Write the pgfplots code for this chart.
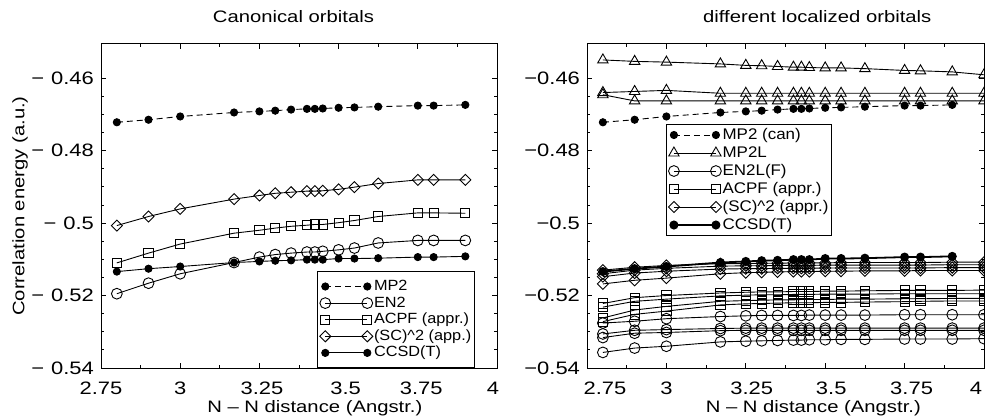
\documentclass[border=0pt]{standalone}
\usepackage{fontspec}
\setmainfont{Liberation Sans}[FakeStretch=1.22]
\newfontfamily\legfont{Liberation Sans}[FakeStretch=1.1]
\usepackage{pgfplots}
\usepackage{pgfplotstable}
\pgfplotsset{compat=1.18}

\pgfplotstableread{
x MP2 EN2 ACPF SC CC
2.8   -0.4722 -0.5195 -0.5110 -0.5007 -0.5134
2.9   -0.4715 -0.5166 -0.5083 -0.4982 -0.5126
3.0   -0.4706 -0.5140 -0.5058 -0.4961 -0.5120
3.17  -0.4695 -0.5109 -0.5028 -0.4934 -0.5109
3.25  -0.4692 -0.5094 -0.5020 -0.4924 -0.5106
3.3   -0.4690 -0.5087 -0.5014 -0.4918 -0.5104
3.35  -0.4687 -0.5083 -0.5009 -0.4915 -0.5103
3.4   -0.4685 -0.5080 -0.5006 -0.4912 -0.5101
3.425 -0.4685 -0.5080 -0.5004 -0.4912 -0.5101
3.45  -0.4684 -0.5078 -0.5004 -0.4911 -0.5101
3.5   -0.4682 -0.5074 -0.4999 -0.4907 -0.5098
3.55  -0.4681 -0.5069 -0.4993 -0.4901 -0.5098
3.625 -0.4679 -0.5055 -0.4982 -0.4891 -0.5097
3.75  -0.4676 -0.5048 -0.4972 -0.4881 -0.5094
3.8   -0.4676 -0.5048 -0.4972 -0.4881 -0.5094
3.9   -0.4674 -0.5048 -0.4973 -0.4881 -0.5092
}\canon

\pgfplotstableread{
x T1 T2 T3 D1 D2 D3 D4 S1 S2 S3 S4 C1 C2 C3 C4
2.8   -0.4550 -0.4640 -0.4646 -0.5130 -0.5140 -0.5148 -0.5168 -0.5222 -0.5232 -0.5262 -0.5272 -0.5276 -0.5306 -0.5316 -0.5357
2.9   -0.4554 -0.4637 -0.4663 -0.5122 -0.5130 -0.5138 -0.5158 -0.5206 -0.5216 -0.5240 -0.5252 -0.5271 -0.5296 -0.5304 -0.5345
3.0   -0.4556 -0.4634 -0.4663 -0.5117 -0.5125 -0.5133 -0.5152 -0.5200 -0.5210 -0.5230 -0.5243 -0.5264 -0.5294 -0.5302 -0.5340
3.17  -0.4561 -0.4642 -0.4663 -0.5112 -0.5119 -0.5127 -0.5140 -0.5193 -0.5201 -0.5216 -0.5226 -0.5258 -0.5291 -0.5297 -0.5328
3.25  -0.4565 -0.4642 -0.4663 -0.5112 -0.5118 -0.5126 -0.5137 -0.5191 -0.5199 -0.5214 -0.5223 -0.5256 -0.5290 -0.5296 -0.5326
3.3   -0.4566 -0.4642 -0.4663 -0.5111 -0.5118 -0.5126 -0.5136 -0.5190 -0.5198 -0.5213 -0.5222 -0.5255 -0.5290 -0.5296 -0.5325
3.35  -0.4568 -0.4642 -0.4663 -0.5111 -0.5117 -0.5125 -0.5135 -0.5190 -0.5198 -0.5212 -0.5221 -0.5255 -0.5290 -0.5296 -0.5324
3.4   -0.4570 -0.4642 -0.4663 -0.5110 -0.5117 -0.5125 -0.5134 -0.5189 -0.5197 -0.5212 -0.5220 -0.5255 -0.5290 -0.5296 -0.5323
3.425 -0.4570 -0.4642 -0.4663 -0.5110 -0.5117 -0.5125 -0.5134 -0.5189 -0.5197 -0.5211 -0.5220 -0.5255 -0.5290 -0.5296 -0.5323
3.45  -0.4571 -0.4642 -0.4663 -0.5110 -0.5117 -0.5125 -0.5134 -0.5189 -0.5197 -0.5211 -0.5220 -0.5254 -0.5290 -0.5296 -0.5322
3.5   -0.4572 -0.4642 -0.4663 -0.5110 -0.5116 -0.5124 -0.5133 -0.5188 -0.5196 -0.5211 -0.5219 -0.5254 -0.5290 -0.5296 -0.5322
3.55  -0.4572 -0.4642 -0.4663 -0.5109 -0.5116 -0.5124 -0.5133 -0.5188 -0.5196 -0.5210 -0.5219 -0.5254 -0.5290 -0.5296 -0.5321
3.625 -0.4574 -0.4642 -0.4663 -0.5109 -0.5116 -0.5124 -0.5132 -0.5187 -0.5196 -0.5210 -0.5218 -0.5254 -0.5290 -0.5296 -0.5321
3.75  -0.4579 -0.4642 -0.4663 -0.5109 -0.5116 -0.5124 -0.5132 -0.5186 -0.5195 -0.5209 -0.5217 -0.5253 -0.5290 -0.5296 -0.5320
3.8   -0.4580 -0.4642 -0.4663 -0.5109 -0.5116 -0.5124 -0.5131 -0.5186 -0.5195 -0.5209 -0.5216 -0.5253 -0.5290 -0.5296 -0.5320
3.9   -0.4583 -0.4642 -0.4663 -0.5108 -0.5115 -0.5123 -0.5131 -0.5186 -0.5195 -0.5208 -0.5215 -0.5253 -0.5290 -0.5296 -0.5320
4.0   -0.4591 -0.4642 -0.4663 -0.5108 -0.5115 -0.5123 -0.5131 -0.5185 -0.5195 -0.5208 -0.5215 -0.5253 -0.5290 -0.5296 -0.5319
}\local

\pgfplotsset{
  panel/.style={
    scale only axis, width=198pt, height=162pt,
    xmin=2.75, xmax=4, ymin=-0.54, ymax=-0.4506,
    xtick={2.75,3,3.25,3.5,3.75,4},
    ytick={-0.54,-0.52,-0.5,-0.48,-0.46},
    minor x tick num=1, minor y tick num=3,
    tick align=inside,
    major tick length=2.4pt, minor tick length=1.3pt,
    axis line style={line width=0.5pt},
    every tick/.style={black, line width=0.4pt},
    tick label style={font=\fontsize{9}{10}\selectfont},
    xticklabel style={anchor=base, yshift=-13pt},
    label style={font=\fontsize{8.3}{10}\selectfont},
    every axis title/.style={at={(0.5,1)}, anchor=base, yshift=10.5pt, font=\fontsize{8.3}{10}\selectfont},
    xlabel style={anchor=base, yshift=-22.5pt},
    clip marker paths=true,
    every axis plot/.append style={black, line width=0.45pt},
    legend cell align=left,
    legend image code/.code={\draw[mark repeat=1,mark phase=1,#1] plot coordinates {(0pt,0pt) (21pt,0pt)};},
  },
  sMP2/.style={dash pattern=on 3pt off 2pt, mark=*, mark size=1.8pt, mark options={solid, fill=black}},
  sCC/.style={solid, mark=*, mark size=1.8pt, mark options={solid, fill=black}},
  sEN/.style={solid, mark=o, mark size=2.7pt, mark options={solid}},
  sAC/.style={solid, mark=square, mark size=2.3pt, mark options={solid}},
  sSC/.style={solid, mark=square, mark size=1.95pt, mark options={solid, rotate=45}},
  sTR/.style={solid, mark=triangle, mark size=3pt, mark options={solid}},
}

\begin{document}
\begin{tikzpicture}
\begin{axis}[panel,
  at={(50.5pt,25pt)}, anchor=south west,
  xticklabels={2.75, 3, \hspace*{2.6pt}3.25, \hspace*{7pt}3.5, \hspace*{3.4pt}3.75, 4\hspace*{4pt}},
  yticklabels={−\hspace{3.5pt}0.54, −\hspace{3.5pt}0.52, −\hspace{3.5pt}0.5, −\hspace{3.5pt}0.48, −\hspace{3.5pt}0.46},
  title={Canonical orbitals}, title style={at={(0.486,1)}},
  xlabel={N – N distance (Angstr.)}, xlabel style={at={(0.54,0)}},
  ylabel={Correlation energy (a.u.)},
  ylabel style={at={(-0.2045,0.5)}, anchor=center},
  legend style={at={(0.944,0)}, anchor=south east, font=\legfont\fontsize{7.4}{8}\selectfont,
    inner xsep=1pt, inner ysep=3.2pt, row sep=0pt,
    nodes={inner sep=0.6pt, text height=5.6pt, text depth=1.5pt}},
]
\addplot[sMP2] table[x=x,y=MP2]{\canon};
\addlegendentry{MP2}
\addplot[sEN] table[x=x,y=EN2]{\canon};
\addlegendentry{EN2}
\addplot[sAC] table[x=x,y=ACPF]{\canon};
\addlegendentry{ACPF (appr.)}
\addplot[sSC] table[x=x,y=SC]{\canon};
\addlegendentry{(SC)\textasciicircum 2 (app.)}
\addplot[sCC] table[x=x,y=CC]{\canon};
\addlegendentry{CCSD(T)}
\end{axis}

\begin{axis}[panel,
  at={(293.5pt,25pt)}, anchor=south west, width=198.5pt,
  xticklabels={\hspace*{18pt}2.75, 3, \hspace*{6pt}3.25, \hspace*{6pt}3.5, \hspace*{7pt}3.75, 4\hspace*{8pt}},
  yticklabels={−0.54, −0.52, −0.5, −0.48, −0.46},
  title={different localized orbitals}, title style={at={(0.58,1)}},
  xlabel={N – N distance (Angstr.)}, xlabel style={at={(0.57,0)}},
  legend style={at={(0.199,0.753)}, anchor=north west, font=\legfont\fontsize{7.7}{8}\selectfont,
    inner xsep=1pt, inner ysep=0.8pt, row sep=0pt,
    nodes={inner sep=0.6pt, text height=6.2pt, text depth=1.6pt}},
]
\addlegendimage{sMP2}\addlegendentry{MP2 (can)}
\addlegendimage{sTR}\addlegendentry{MP2L}
\addlegendimage{sEN}\addlegendentry{EN2L(F)}
\addlegendimage{sAC}\addlegendentry{ACPF (appr.)}
\addlegendimage{sSC}\addlegendentry{(SC)\textasciicircum 2 (appr.)}
\addlegendimage{sCC, line width=0.9pt}\addlegendentry{CCSD(T)}
\addplot[sTR, forget plot] table[x=x,y=T1]{\local};
\addplot[sTR, forget plot] table[x=x,y=T2]{\local};
\addplot[sTR, forget plot] table[x=x,y=T3]{\local};
\addplot[sMP2, forget plot] table[x=x,y=MP2]{\canon};
\addplot[sEN, forget plot] table[x=x,y=C1]{\local};
\addplot[sEN, forget plot] table[x=x,y=C2]{\local};
\addplot[sEN, forget plot] table[x=x,y=C3]{\local};
\addplot[sEN, forget plot] table[x=x,y=C4]{\local};
\addplot[sAC, forget plot] table[x=x,y=S1]{\local};
\addplot[sAC, forget plot] table[x=x,y=S2]{\local};
\addplot[sAC, forget plot] table[x=x,y=S3]{\local};
\addplot[sAC, forget plot] table[x=x,y=S4]{\local};
\addplot[sSC, forget plot] table[x=x,y=D1]{\local};
\addplot[sSC, forget plot] table[x=x,y=D2]{\local};
\addplot[sSC, forget plot] table[x=x,y=D3]{\local};
\addplot[sSC, forget plot] table[x=x,y=D4]{\local};
\addplot[sCC, line width=0.9pt, forget plot] table[x=x,y=CC]{\canon};
\end{axis}
\pgfresetboundingbox
\path[use as bounding box] (0pt,0pt) rectangle (493.5pt,209pt);
\end{tikzpicture}
\end{document}
